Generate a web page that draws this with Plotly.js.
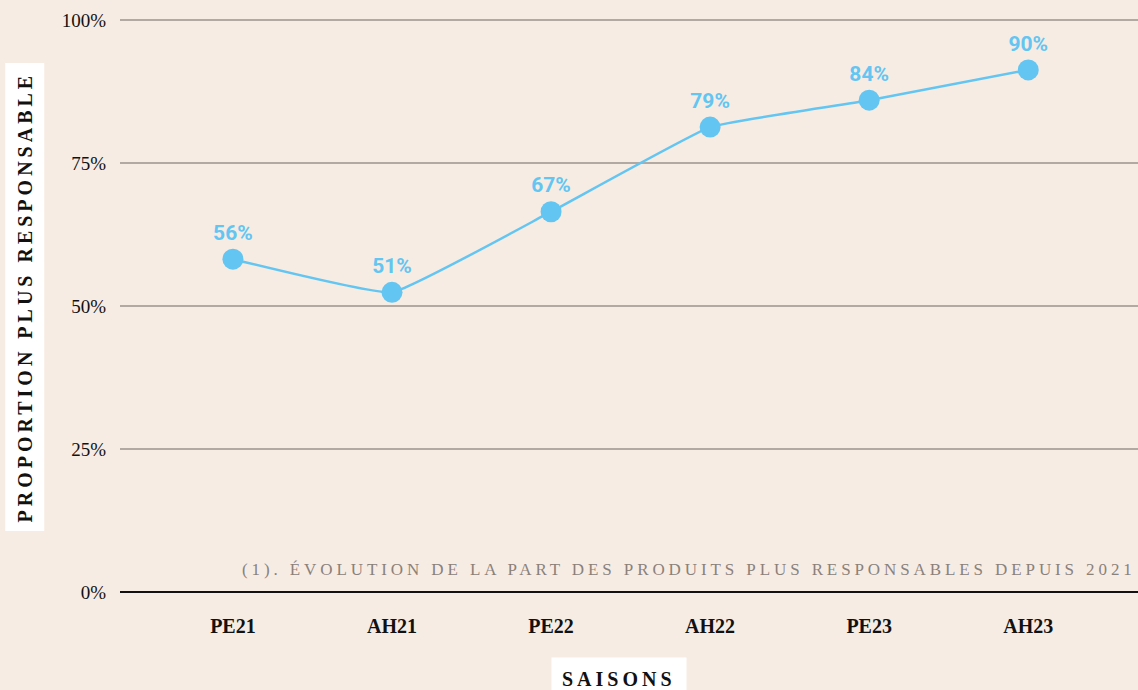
<!DOCTYPE html>
<html>
<head>
<meta charset="utf-8">
<script src="https://cdn.plot.ly/plotly-3.0.1.min.js"></script>
<style>
html,body{margin:0;padding:0;background:#f6ece4;}
#chart{width:1138px;height:690px;}
</style>
</head>
<body>
<div id="chart"></div>
<script>
const seasons = ["PE21", "AH21", "PE22", "AH22", "PE23", "AH23"];
const shares = [58.2, 52.4, 66.5, 81.3, 86.0, 91.3];
const shareLabels = ["56%", "51%", "67%", "79%", "84%", "90%"];
const yTicks = [0, 25, 50, 75, 100];
const yTickLabels = ["0%", "25%", "50%", "75%", "100%"];

const blue = "#63c5f1";
const serif = "Liberation Serif, DejaVu Serif, serif";

const trace = {
  x: seasons,
  y: shares,
  text: shareLabels,
  type: "scatter",
  mode: "lines+markers+text",
  line: {color: blue, width: 2.5, shape: "spline", smoothing: 0.3},
  marker: {color: blue, size: 21},
  textposition: "top center",
  textfont: {family: "Roboto, DejaVu Sans, sans-serif", size: 21, color: blue, weight: 700},
  hoverinfo: "skip",
  cliponaxis: false
};

const layout = {
  width: 1138, height: 690,
  margin: {l: 120, r: 0, t: 19, b: 98},
  paper_bgcolor: "#f6ece4",
  plot_bgcolor: "#f6ece4",
  showlegend: false,
  xaxis: {
    type: "category",
    range: [-0.71, 5.69],
    showgrid: false,
    zeroline: false,
    showline: false,
    ticks: "",
    ticklabelstandoff: 20,
    tickfont: {family: serif, size: 20, color: "#111", weight: 700}
  },
  yaxis: {
    range: [0, 100.2],
    tickvals: yTicks,
    ticktext: yTickLabels,
    showgrid: true,
    gridcolor: "#b2aaa2",
    gridwidth: 2,
    zeroline: true,
    zerolinecolor: "#111",
    zerolinewidth: 2,
    showline: false,
    ticks: "",
    ticklabelstandoff: 13,
    tickfont: {family: serif, size: 19, color: "#111"},
    fixedrange: true
  },
  annotations: [
    {
      xref: "paper", yref: "y", x: 1, y: 4, xanchor: "right", yanchor: "middle",
      showarrow: false,
      text: '<span style="letter-spacing:3.9px">(1). ÉVOLUTION DE LA PART DES PRODUITS PLUS RESPONSABLES DEPUIS 2021</span>',
      font: {family: serif, size: 17, color: "#8a817a"}
    },
    {
      xref: "paper", yref: "paper", x: -0.0937, y: 0.515, xanchor: "center", yanchor: "middle",
      showarrow: false, textangle: -90,
      text: '<span style="letter-spacing:4px">PROPORTION PLUS RESPONSABLE</span>',
      font: {family: serif, size: 20, color: "#111", weight: 700},
      bgcolor: "#ffffff", borderpad: 8
    },
    {
      xref: "paper", yref: "paper", x: 0.4902, y: -0.152, xanchor: "center", yanchor: "middle",
      showarrow: false,
      text: '<span style="letter-spacing:4px">SAISONS</span>',
      font: {family: serif, size: 20, color: "#111", weight: 700},
      bgcolor: "#ffffff", borderpad: 10
    }
  ]
};

Plotly.newPlot("chart", [trace], layout, {displayModeBar: false, staticPlot: true});
</script>
</body>
</html>
